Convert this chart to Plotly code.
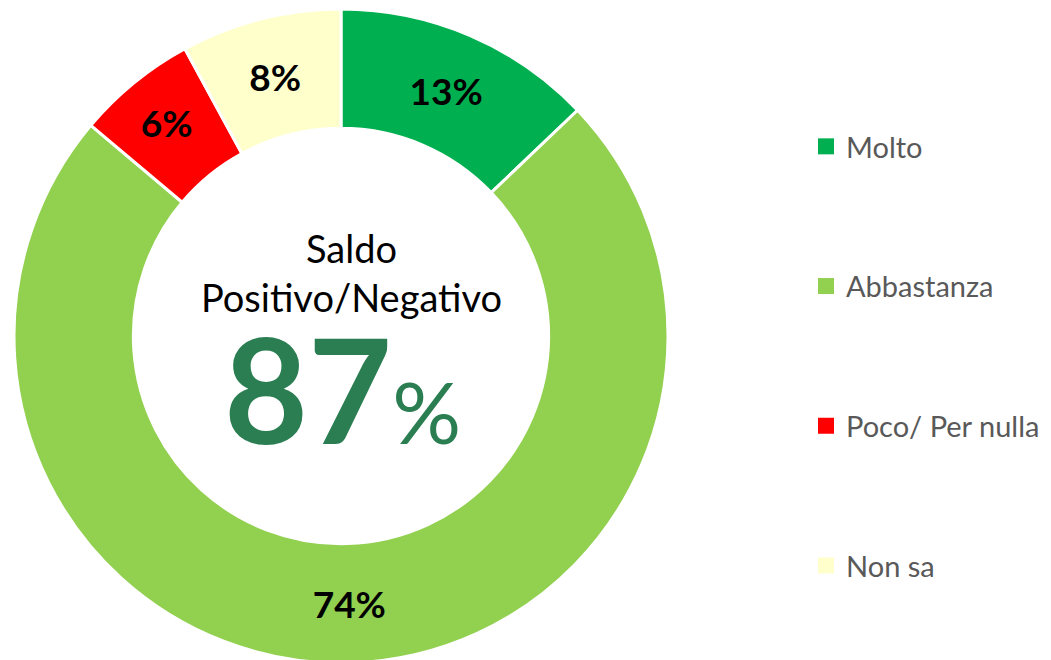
import plotly.graph_objects as go

categories = ["Molto", "Abbastanza", "Poco/ Per nulla", "Non sa"]
values = [13, 74, 6, 8]
colors = ["#00B050", "#92D050", "#FF0000", "#FFFFCC"]
legend_labels = ["Molto", "Abbastanza", "Poco/ Per nulla", "Non sa"]
center_title = "Saldo<br>Positivo/Negativo"
center_value = 87

FONT = "Lato"
W, H = 1051, 660

fig = go.Figure()

fig.add_trace(go.Pie(
    labels=categories,
    values=values,
    marker=dict(colors=colors, line=dict(color="white", width=3)),
    hole=0.635,
    sort=False,
    direction="clockwise",
    rotation=0,
    texttemplate="%{value}%",
    textposition="inside",
    insidetextorientation="horizontal",
    textfont=dict(family=FONT, size=37, color="black", weight="bold"),
    domain=dict(x=[6 / W, 660 / W], y=[5 / H, 659 / H]),
    showlegend=False,
    hoverinfo="label+value",
))

for name, col in zip(legend_labels, colors):
    fig.add_trace(go.Scatter(
        x=[None], y=[None], mode="markers", name=name, legendgroup=name,
        marker=dict(symbol="square", size=20, color=col),
        showlegend=True,
    ))

fig.add_annotation(
    text=center_title, x=343 / W, y=(H - 264) / H, xref="paper", yref="paper",
    showarrow=False, font=dict(family=FONT, size=38, color="black"),
    xanchor="center", yanchor="middle",
)
fig.add_annotation(
    text=f"<b>{center_value}</b><span style='font-size:86px'>%</span>",
    x=334 / W, y=(H - 380) / H, xref="paper", yref="paper",
    showarrow=False, font=dict(family=FONT, size=145, color="#2A7E52"),
    xanchor="center", yanchor="middle",
)

fig.update_layout(
    width=W, height=H,
    margin=dict(l=0, r=0, t=0, b=0),
    paper_bgcolor="white", plot_bgcolor="white",
    xaxis=dict(visible=False), yaxis=dict(visible=False),
    legend=dict(
        x=798 / W, y=(H - 113) / H, xanchor="left", yanchor="top",
        traceorder="grouped", tracegroupgap=99,
        font=dict(family=FONT, size=29, color="#595959"),
        bgcolor="rgba(0,0,0,0)",
    ),
)

fig.write_html("out.html")
